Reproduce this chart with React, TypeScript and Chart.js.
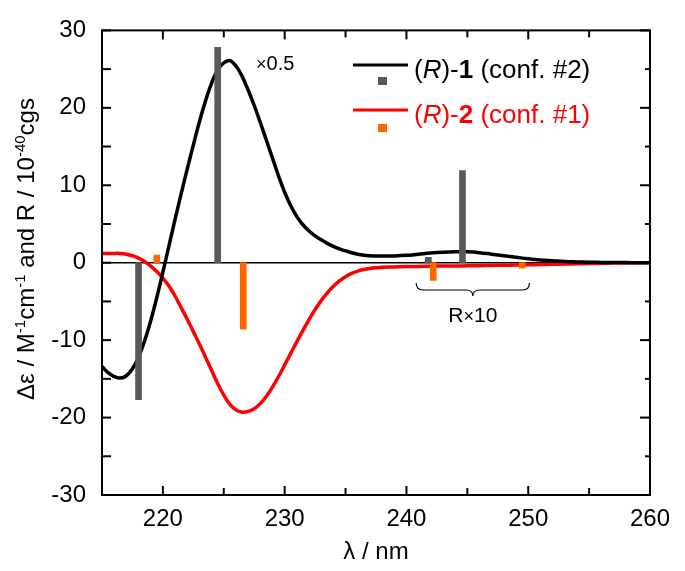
import React, { useEffect, useRef } from "react";
import { Chart, registerables } from "chart.js";

Chart.register(...registerables);

// ---------- data ----------
const wavelengths = [
  215, 215.5, 216, 216.5, 217, 217.5, 218, 218.5, 219, 219.5,
  220, 220.5, 221, 221.5, 222, 222.5, 223, 223.5, 224, 224.5,
  225, 225.5, 226, 226.5, 227, 227.5, 228, 228.5, 229, 229.5,
  230, 230.5, 231, 231.5, 232, 232.5, 233, 233.5, 234, 234.5,
  235, 235.5, 236, 236.5, 237, 237.5, 238,
  239, 240, 241, 242, 243, 244, 245, 246, 247, 248, 249,
  250, 251, 252, 253, 254, 255, 256, 257, 258, 259, 260,
];
const cdR1 = [
  -13.4, -14.2, -14.7, -14.9, -14.6, -13.7, -12.2, -10.1, -7.5, -4.5,
  -1.2, 2.2, 5.6, 8.9, 12.1, 15.2, 18.2, 20.9, 23.2, 24.9,
  25.8, 26.1, 25.4, 24.1, 22.3, 20.3, 18.1, 15.8, 13.5, 11.2,
  9.1, 7.35, 5.95, 4.9, 4.1, 3.47, 2.95, 2.5, 2.12, 1.8,
  1.52, 1.29, 1.1, 0.97, 0.9, 0.86, 0.85,
  0.87, 0.95, 1.1, 1.25, 1.35, 1.4, 1.4, 1.3, 1.1, 0.9, 0.7,
  0.5, 0.35, 0.25, 0.15, 0.1, 0.06, 0.04, 0.02, 0.01, 0, 0,
];
const cdR2 = [
  1.2, 1.2, 1.2, 1.2, 1.1, 0.9, 0.6, 0.15, -0.45, -1.15,
  -2.0, -3.0, -4.3, -5.8, -7.3, -8.9, -10.5, -12.2, -13.9, -15.6,
  -17.1, -18.3, -19.0, -19.3, -19.2, -18.85, -18.2, -17.25, -16.05, -14.7,
  -13.2, -11.7, -10.2, -8.75, -7.35, -6.05, -4.9, -3.9, -3.05, -2.35,
  -1.8, -1.38, -1.08, -0.88, -0.74, -0.65, -0.59,
  -0.55, -0.5, -0.48, -0.45, -0.43, -0.42, -0.4, -0.38, -0.35, -0.33, -0.3,
  -0.27, -0.24, -0.2, -0.17, -0.14, -0.11, -0.08, -0.05, -0.03, -0.01, 0,
];
const stickX1 = [218.0, 224.5, 241.8, 244.6];
const stickR1 = [-17.7, 27.8, 0.7, 11.9];
const stickX2 = [219.5, 226.6, 242.2, 249.5];
const stickR2 = [1.0, -8.6, -2.3, -0.7];

const xMajorTicks = [220, 230, 240, 250, 260];
const xMinorTicks = [215, 225, 235, 245, 255];
const yMajorTicks = [-30, -20, -10, 0, 10, 20, 30];
const yMinorTicks = [-25, -15, -5, 5, 15, 25];

const FONT = "'Liberation Sans', Arial, Helvetica, sans-serif";

type Piece = { t: string; style?: string; size?: number; rise?: number };

function drawPieces(ctx: CanvasRenderingContext2D, pieces: Piece[], x: number, y: number, color: string, base: number, align: "left" | "center" = "left") {
  const widths = pieces.map((p) => {
    ctx.font = `${p.style || ""} ${p.size || base}px ${FONT}`;
    return ctx.measureText(p.t).width;
  });
  const total = widths.reduce((a, b) => a + b, 0);
  let cx = align === "center" ? x - total / 2 : x;
  ctx.fillStyle = color;
  ctx.textBaseline = "alphabetic";
  ctx.textAlign = "left";
  pieces.forEach((p, i) => {
    ctx.font = `${p.style || ""} ${p.size || base}px ${FONT}`;
    ctx.fillText(p.t, cx, y - (p.rise || 0));
    cx += widths[i];
  });
}

const overlayPlugin = {
  id: "overlay",
  beforeDatasetsDraw(chart: any) {
    const { ctx, chartArea, scales } = chart;
    const y0 = scales.y.getPixelForValue(0);
    ctx.save();
    ctx.strokeStyle = "#000";
    ctx.lineWidth = 1.5;
    ctx.beginPath();
    ctx.moveTo(chartArea.left, y0);
    ctx.lineTo(chartArea.right, y0);
    ctx.stroke();
    ctx.restore();
  },
  afterDraw(chart: any) {
    const { ctx, chartArea, scales } = chart;
    const { left, right, top, bottom } = chartArea;
    const xs = scales.x;
    const ys = scales.y;
    ctx.save();
    // frame
    ctx.strokeStyle = "#000";
    ctx.lineWidth = 2;
    ctx.strokeRect(left, top, right - left, bottom - top);
    // ticks
    const tick = (x1: number, y1: number, x2: number, y2: number) => {
      ctx.beginPath();
      ctx.moveTo(x1, y1);
      ctx.lineTo(x2, y2);
      ctx.stroke();
    };
    xMajorTicks.concat(xMinorTicks).forEach((v) => {
      const px = xs.getPixelForValue(v);
      const len = xMajorTicks.includes(v) ? 9 : 7;
      tick(px, bottom, px, bottom - len);
      tick(px, top, px, top + len);
    });
    yMajorTicks.concat(yMinorTicks).forEach((v) => {
      const py = ys.getPixelForValue(v);
      const lenL = 9;
      const lenR = yMajorTicks.includes(v) ? 10 : 5;
      tick(left, py, left + lenL, py);
      tick(right, py, right - lenR, py);
    });

    // y-axis title
    ctx.save();
    ctx.translate(25, 249);
    ctx.rotate(-Math.PI / 2);
    drawPieces(
      ctx,
      [
        { t: "Δε / M" },
        { t: "-1", size: 15, rise: 9 },
        { t: "cm" },
        { t: "-1", size: 15, rise: 9 },
        { t: " and R / 10" },
        { t: "-40", size: 15, rise: 9 },
        { t: "cgs" },
      ],
      0,
      9,
      "#000",
      24,
      "center"
    );
    ctx.restore();

    // x-axis title
    drawPieces(ctx, [{ t: "λ / nm" }], (left + right) / 2, 559, "#000", 24, "center");

    // x0.5 label
    drawPieces(ctx, [{ t: "×", size: 18 }, { t: "0.5" }], 256, 70, "#000", 20);

    // brace + Rx10
    const bx1 = xs.getPixelForValue(240.8);
    const bx2 = xs.getPixelForValue(250.1);
    const bm = (bx1 + bx2) / 2;
    const byTop = 283;
    const byMid = 290;
    const byTip = 296;
    ctx.strokeStyle = "#000";
    ctx.lineWidth = 1.2;
    ctx.beginPath();
    ctx.moveTo(bx1, byTop);
    ctx.quadraticCurveTo(bx1, byMid, bx1 + 7, byMid);
    ctx.lineTo(bm - 7, byMid);
    ctx.quadraticCurveTo(bm, byMid, bm, byTip);
    ctx.quadraticCurveTo(bm, byMid, bm + 7, byMid);
    ctx.lineTo(bx2 - 7, byMid);
    ctx.quadraticCurveTo(bx2, byMid, bx2, byTop);
    ctx.stroke();
    drawPieces(ctx, [{ t: "R" }, { t: "×", size: 18 }, { t: "10" }], bm, 322, "#000", 21, "center");

    // legend
    ctx.lineWidth = 3;
    ctx.strokeStyle = "#000";
    tick(353, 65, 408, 65);
    ctx.fillStyle = "#595959";
    ctx.fillRect(378, 77, 9, 8);
    drawPieces(
      ctx,
      [{ t: "(" }, { t: "R", style: "italic" }, { t: ")-" }, { t: "1", style: "bold" }, { t: " (conf. #2)" }],
      414,
      78,
      "#000",
      26
    );
    ctx.strokeStyle = "#ff0000";
    tick(353, 110, 408, 110);
    ctx.fillStyle = "#ff6600";
    ctx.fillRect(378, 124, 9, 8);
    drawPieces(
      ctx,
      [{ t: "(" }, { t: "R", style: "italic" }, { t: ")-" }, { t: "2", style: "bold" }, { t: " (conf. #1)" }],
      414,
      123,
      "#ff0000",
      26
    );
    ctx.restore();
  },
};

export default function App() {
  const canvasRef = useRef<HTMLCanvasElement | null>(null);

  useEffect(() => {
    const canvas = canvasRef.current;
    if (!canvas) return;
    const pts = (xs: number[], ys: number[]) => xs.map((x, i) => ({ x, y: ys[i] }));
    const chart = new Chart(canvas, {
      type: "line",
      data: {
        datasets: [
          {
            type: "bar",
            label: "R1",
            data: pts(stickX1, stickR1) as any,
            backgroundColor: "#595959",
            barThickness: 6,
            grouped: false,
            order: 0,
          } as any,
          {
            type: "bar",
            label: "R2",
            data: pts(stickX2, stickR2) as any,
            backgroundColor: "#ff6600",
            barThickness: 6,
            grouped: false,
            order: 0,
          } as any,
          {
            type: "line",
            label: "(R)-1",
            data: pts(wavelengths, cdR1) as any,
            borderColor: "#000",
            borderWidth: 3.5,
            pointRadius: 0,
            tension: 0.4,
            order: 1,
          },
          {
            type: "line",
            label: "(R)-2",
            data: pts(wavelengths, cdR2) as any,
            borderColor: "#ff0000",
            borderWidth: 3.5,
            pointRadius: 0,
            tension: 0.4,
            order: 1,
          },
        ],
      },
      options: {
        responsive: false,
        animation: false,
        devicePixelRatio: 1,
        layout: { padding: { top: 22, right: 35, left: 0, bottom: 0 } },
        plugins: { legend: { display: false }, tooltip: { enabled: false } },
        scales: {
          x: {
            type: "linear",
            min: 215,
            max: 260,
            offset: false,
            grid: { display: false, drawTicks: false },
            border: { display: false },
            afterBuildTicks: (s: any) => {
              s.ticks = xMajorTicks.map((v) => ({ value: v }));
            },
            afterFit: (s: any) => {
              s.height = 76;
            },
            ticks: {
              padding: 10,
              color: "#000",
              font: { family: FONT, size: 24 },
              maxRotation: 0,
            },
          },
          y: {
            type: "linear",
            min: -30,
            max: 30,
            grid: { display: false, drawTicks: false },
            border: { display: false },
            afterBuildTicks: (s: any) => {
              s.ticks = yMajorTicks.map((v) => ({ value: v }));
            },
            afterFit: (s: any) => {
              s.width = 102;
            },
            ticks: {
              padding: 16,
              color: "#000",
              font: { family: FONT, size: 24 },
            },
          },
        },
      },
      plugins: [overlayPlugin],
    });
    return () => chart.destroy();
  }, []);

  return (
    <div style={{ position: "absolute", left: 0, top: 0, width: 685, height: 571, background: "#fff" }}>
      <canvas ref={canvasRef} width={685} height={571} style={{ display: "block" }} />
    </div>
  );
}
